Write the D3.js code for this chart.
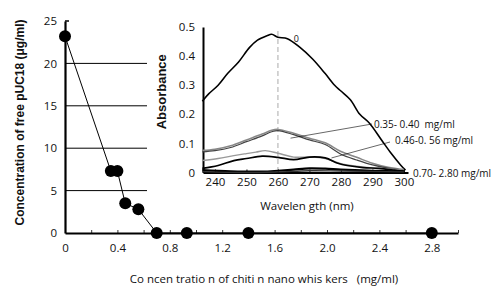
<!DOCTYPE html>
<html>
<head>
<meta charset="utf-8">
<script src="https://cdn.jsdelivr.net/npm/d3@7"></script>
<style>
  body { margin: 0; background: #fff; }
  svg { display: block; }
  text { font-family: "Open Sans", sans-serif; fill: #111; }
</style>
</head>
<body>
<svg width="500" height="288"></svg>
<script>
// основной график: концентрация вискеров -> свободная pUC18
const chitinConc = [0, 0.35, 0.40, 0.46, 0.56, 0.70, 0.93, 1.40, 2.80];
const freePUC18  = [23.2, 7.3, 7.3, 3.5, 2.8, 0, 0, 0, 0];
const xTickLabels = [0, 0.4, 0.8, 1.2, 1.6, 2.0, 2.4, 2.8];
const yTickLabels = [0, 5, 10, 15, 20, 25];
const gridValues = [5, 10, 15, 20];

// врезка: спектры поглощения
const waveTicks = [240, 250, 260, 270, 280, 290, 300];
const absTicks = [0, 0.1, 0.2, 0.3, 0.4, 0.5];
const spec0 = [
  [236, 0.245], [238, 0.27], [241, 0.30], [244, 0.34], [247.5, 0.38], [251, 0.43],
  [253.5, 0.455], [256.5, 0.47], [258, 0.475], [260, 0.465], [263, 0.46], [267, 0.43],
  [271, 0.39], [275, 0.34], [278, 0.30], [280, 0.28], [283, 0.25], [286, 0.20],
  [289, 0.17], [293, 0.11], [296, 0.065], [299, 0.025], [300.5, 0.008]
];
const spec035 = [
  [236, 0.076], [240, 0.08], [245, 0.092], [250, 0.112], [255, 0.132], [258, 0.145],
  [260, 0.148], [265, 0.135], [270, 0.118], [275, 0.102], [280, 0.072], [285, 0.052],
  [290, 0.032], [295, 0.018], [300, 0.01]
];
const spec040 = [
  [236, 0.071], [240, 0.075], [245, 0.086], [250, 0.106], [255, 0.126], [258, 0.14],
  [260, 0.144], [265, 0.13], [270, 0.112], [275, 0.096], [280, 0.063], [285, 0.043],
  [290, 0.026], [295, 0.015], [300, 0.008]
];
const spec046 = [
  [236, 0.041], [241, 0.048], [246, 0.058], [250, 0.065], [253, 0.07], [256, 0.075],
  [260, 0.066], [265, 0.053], [270, 0.053], [275, 0.048], [280, 0.03], [285, 0.022],
  [290, 0.016], [295, 0.012], [300, 0.008]
];
const spec056 = [
  [236, 0.014], [241, 0.024], [246, 0.041], [250, 0.048], [255, 0.056], [260, 0.052],
  [265, 0.044], [270, 0.053], [275, 0.05], [279, 0.032], [282, 0.024], [287, 0.017],
  [292, 0.014], [297, 0.008], [300, 0.004]
];
const spec070 = [
  [236, 0.008], [245, 0.004], [255, 0.003], [260, 0.006], [265, 0.01], [270, 0.014],
  [275, 0.013], [280, 0.01], [290, 0.006], [300, 0.004]
];
const spec280 = [
  [236, 0.003], [250, 0.0], [260, 0.002], [270, 0.006], [280, 0.005], [300, 0.002]
];

const svg = d3.select("svg");

// ---------- основной график ----------
const x = d3.scaleLinear().domain([0, 3.0]).range([65, 458]);
const y = d3.scaleLinear().domain([0, 25]).range([233, 21]);

// горизонтальные линии сетки (только слева от врезки)
svg.append("g").selectAll("line")
  .data(gridValues)
  .enter()
  .append("line")
  .attr("x1", x(0)).attr("x2", 147)
  .attr("y1", d => y(d)).attr("y2", d => y(d))
  .attr("stroke", "#000").attr("stroke-width", 1);

const minorX = d3.range(0, 3.0001, 0.2);
const axX = svg.append("g")
  .attr("transform", `translate(0, ${y(0)})`)
  .call(d3.axisBottom(x)
    .tickValues(minorX)
    .tickSize(-3)
    .tickSizeOuter(0)
    .tickFormat(d => {
      const k = Math.round(d * 10);
      return k % 4 === 0 && k <= 28 ? (k === 0 ? "0" : d.toFixed(1)) : "";
    }));
axX.select(".domain").attr("stroke-width", 2.2);
axX.selectAll(".tick line").attr("stroke-width", 0.8);
axX.selectAll("text").attr("dy", "1.35em").style("font-size", "11.5px");

const axY = svg.append("g")
  .attr("transform", `translate(${x(0)}, 0)`)
  .call(d3.axisLeft(y).tickValues(yTickLabels).tickSize(0).tickPadding(8).tickSizeOuter(0));
axY.select(".domain").attr("stroke-width", 2.2);
axY.selectAll("text").style("font-size", "11.5px");
// маленькая засечка сверху
svg.append("line")
  .attr("x1", x(0)).attr("x2", x(0) + 4)
  .attr("y1", y(25)).attr("y2", y(25))
  .attr("stroke", "#000").attr("stroke-width", 1.5);

const line = d3.line().x(d => x(d[0])).y(d => y(d[1]));
const pts = chitinConc.map((c, i) => [c, freePUC18[i]]);
svg.append("path")
  .attr("d", line(pts))
  .attr("fill", "none").attr("stroke", "#000").attr("stroke-width", 1);

svg.append("g").selectAll("circle")
  .data(pts)
  .enter()
  .append("circle")
  .attr("cx", d => x(d[0]))
  .attr("cy", d => y(d[1]))
  .attr("r", 6)
  .attr("fill", "#000");

svg.append("text")
  .attr("transform", `translate(24, ${(y(0) + 12) / 2}) rotate(-90)`)
  .attr("text-anchor", "middle")
  .style("font-family", "'Liberation Sans', Arial, sans-serif")
  .style("font-weight", "bold")
  .style("font-size", "12px")
  .text("Concentration of free pUC18 (μg/ml)");

svg.append("text")
  .attr("x", 264).attr("y", 283)
  .attr("text-anchor", "middle")
  .style("font-size", "11.5px")
  .attr("xml:space", "preserve")
  .text("Co ncen tratio n of chiti n nano whis kers   (mg/ml)");

// ---------- врезка ----------
const xi = d3.scaleLinear().domain([236.2, 301.3]).range([203, 408]);
const yi = d3.scaleLinear().domain([0, 0.5]).range([172.5, 27]);

svg.append("line")
  .attr("x1", xi(260)).attr("x2", xi(260))
  .attr("y1", 31).attr("y2", yi(0))
  .attr("stroke", "#aaa").attr("stroke-width", 1)
  .attr("stroke-dasharray", "5,3");

const axXi = svg.append("g")
  .attr("transform", `translate(0, ${yi(0)})`)
  .call(d3.axisBottom(xi).tickValues(waveTicks).tickSize(-3).tickSizeOuter(0));
axXi.select(".domain").attr("stroke-width", 2);
axXi.selectAll("text").style("font-size", "11.5px").attr("dy", "0.9em");

const axYi = svg.append("g")
  .attr("transform", `translate(${xi.range()[0]}, 0)`)
  .call(d3.axisLeft(yi).tickValues(absTicks).tickSize(0).tickPadding(8).tickSizeOuter(0)
    .tickFormat(d => d === 0 ? "0" : d.toFixed(1)));
axYi.select(".domain").attr("stroke-width", 2);
axYi.selectAll("text").style("font-size", "11.5px");

const lineI = d3.line().x(d => xi(d[0])).y(d => yi(d[1])).curve(d3.curveCatmullRom);

const spectra = [
  { data: spec0,   color: "#000",  w: 1.6 },
  { data: spec035, color: "#888",  w: 1.6 },
  { data: spec040, color: "#444",  w: 1.2 },
  { data: spec046, color: "#999",  w: 1.4 },
  { data: spec056, color: "#000",  w: 1.7 },
  { data: spec070, color: "#000",  w: 2.2 },
  { data: spec280, color: "#333",  w: 1.4 }
];
svg.append("g").selectAll("path")
  .data(spectra)
  .enter()
  .append("path")
  .attr("d", d => lineI(d.data))
  .attr("fill", "none")
  .attr("stroke", d => d.color)
  .attr("stroke-width", d => d.w);

// выноски
const leaders = [
  { from: [264, 0.118], to: [372, 124], label: "0.35- 0.40  mg/ml", lx: 374, ly: 128 },
  { from: [277, 0.05], to: [390, 142], label: "0.46-0. 56 mg/ml", lx: 395, ly: 144 }
];
svg.append("g").selectAll("line")
  .data(leaders)
  .enter()
  .append("line")
  .attr("x1", d => xi(d.from[0])).attr("y1", d => yi(d.from[1]))
  .attr("x2", d => d.to[0]).attr("y2", d => d.to[1])
  .attr("stroke", "#000").attr("stroke-width", 0.6);
svg.append("g").selectAll("text")
  .data(leaders)
  .enter()
  .append("text")
  .attr("x", d => d.lx).attr("y", d => d.ly)
  .attr("xml:space", "preserve")
  .style("font-size", "10px")
  .text(d => d.label);

svg.append("text")
  .attr("x", 413).attr("y", 177)
  .style("font-size", "10px")
  .text("0.70- 2.80 mg/ml");

svg.append("text")
  .attr("x", xi(265)).attr("y", 42)
  .style("font-size", "9px")
  .text("0");

svg.append("text")
  .attr("transform", `translate(166, ${(yi(0) + yi(0.5)) / 2 - 8}) rotate(-90)`)
  .attr("text-anchor", "middle")
  .style("font-family", "'Liberation Sans', Arial, sans-serif")
  .style("font-weight", "bold")
  .style("font-size", "13px")
  .text("Absorbance");

svg.append("text")
  .attr("x", 307).attr("y", 210)
  .attr("text-anchor", "middle")
  .attr("xml:space", "preserve")
  .style("font-size", "11.5px")
  .text("Wavelen gth (nm)");
</script>
</body>
</html>
